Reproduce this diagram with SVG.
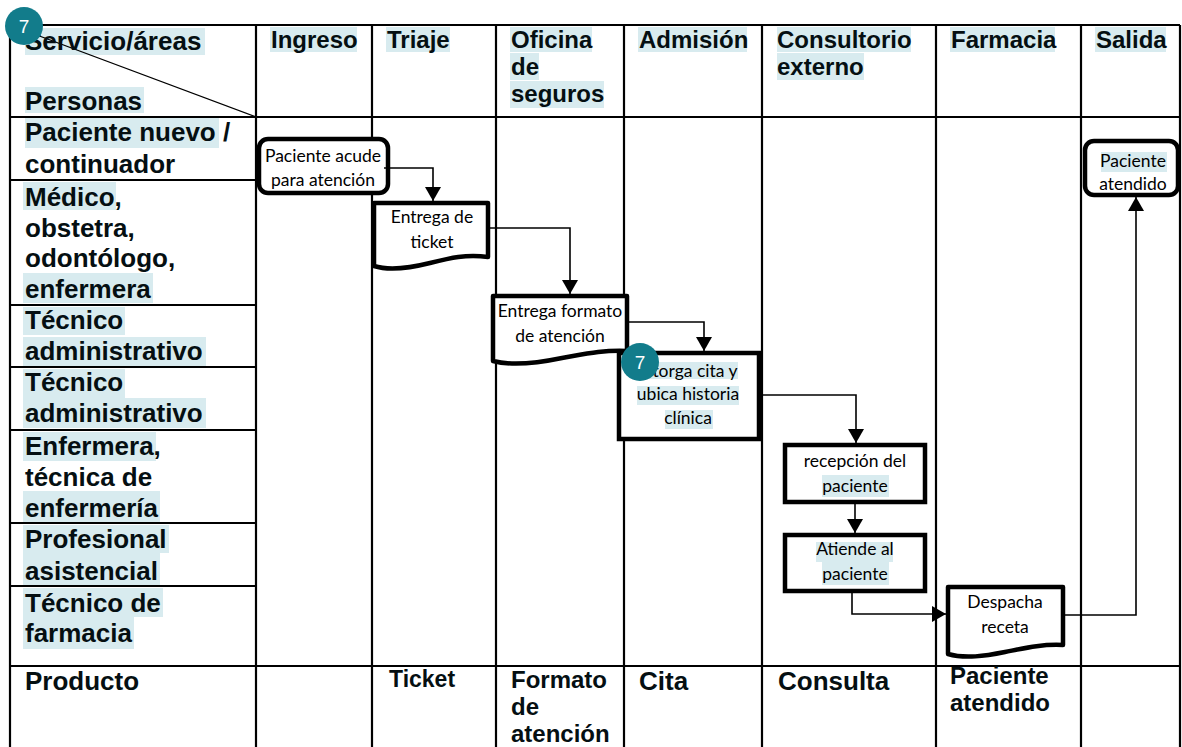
<svg xmlns="http://www.w3.org/2000/svg" width="1182" height="747" viewBox="0 0 1182 747">
<style>
.grid{stroke:#000;stroke-width:2.2;fill:none}
.diag{stroke:#000;stroke-width:1.2;fill:none}
.hl{fill:#d8ebef}
.lc{font-family:"Liberation Sans",Arial,sans-serif;font-weight:bold;font-size:26px;fill:#050f12}
.hd{font-family:"Liberation Sans",Arial,sans-serif;font-weight:bold;font-size:24px;fill:#050f12}
.nb{fill:#fff;stroke:#000;stroke-width:4.5;stroke-linejoin:round}
.nt{font-family:Lato,"Open Sans",sans-serif;font-size:17.5px;fill:#000;text-anchor:middle}
.cn{stroke:#000;stroke-width:1.6;fill:none;marker-end:url(#ah)}
.badge{fill:#127c8b}
.bt{font-family:"Liberation Sans",Arial,sans-serif;font-size:19px;fill:#fff;text-anchor:middle}
</style>
<defs>
<marker id="ah" markerUnits="userSpaceOnUse" viewBox="0 0 14 16" markerWidth="14" markerHeight="16" refX="14" refY="8" orient="auto">
<path d="M0,0 L14,8 L0,16 z" fill="#000"/>
</marker>
</defs>
<rect width="1182" height="747" fill="#fff"/>

<g id="highlights">
<rect class="hl" x="25" y="28" width="180" height="27"/>
<rect class="hl" x="25" y="87" width="119" height="26"/>
<rect class="hl" x="25" y="118" width="194" height="30"/>
<rect class="hl" x="23" y="182" width="93" height="28"/>
<rect class="hl" x="23" y="273" width="130" height="30"/>
<rect class="hl" x="23" y="307" width="102" height="28"/>
<rect class="hl" x="23" y="337" width="183" height="29"/>
<rect class="hl" x="23" y="369" width="102" height="29"/>
<rect class="hl" x="23" y="398" width="183" height="30"/>
<rect class="hl" x="23" y="432" width="133" height="29"/>
<rect class="hl" x="23" y="491" width="137" height="31"/>
<rect class="hl" x="23" y="525" width="146" height="28"/>
<rect class="hl" x="23" y="553" width="137" height="32"/>
<rect class="hl" x="23" y="588" width="140" height="29"/>
<rect class="hl" x="23" y="617" width="111" height="32"/>
<rect class="hl" x="270" y="27" width="87" height="25"/>
<rect class="hl" x="386" y="27" width="64" height="25"/>
<rect class="hl" x="510" y="27" width="82" height="25"/>
<rect class="hl" x="510" y="53" width="29" height="27"/>
<rect class="hl" x="510" y="81" width="94" height="27"/>
<rect class="hl" x="638" y="27" width="109" height="25"/>
<rect class="hl" x="777" y="27" width="134" height="25"/>
<rect class="hl" x="777" y="53" width="87" height="27"/>
<rect class="hl" x="950" y="27" width="105" height="25"/>
<rect class="hl" x="1095" y="27" width="71" height="25"/>
</g>

<g id="table">
<line class="grid" x1="10" y1="25" x2="1180" y2="25"/>
<line class="grid" x1="10" y1="117" x2="1180" y2="117"/>
<line class="grid" x1="10" y1="666" x2="1180" y2="666"/>
<line class="grid" x1="10" y1="180" x2="256" y2="180"/>
<line class="grid" x1="10" y1="305" x2="256" y2="305"/>
<line class="grid" x1="10" y1="367" x2="256" y2="367"/>
<line class="grid" x1="10" y1="430" x2="256" y2="430"/>
<line class="grid" x1="10" y1="523" x2="256" y2="523"/>
<line class="grid" x1="10" y1="586" x2="256" y2="586"/>
<line class="grid" x1="10" y1="25" x2="10" y2="747"/>
<line class="grid" x1="256" y1="25" x2="256" y2="747"/>
<line class="grid" x1="372" y1="25" x2="372" y2="747"/>
<line class="grid" x1="496" y1="25" x2="496" y2="747"/>
<line class="grid" x1="624" y1="25" x2="624" y2="747"/>
<line class="grid" x1="762" y1="25" x2="762" y2="747"/>
<line class="grid" x1="936" y1="25" x2="936" y2="747"/>
<line class="grid" x1="1081" y1="25" x2="1081" y2="747"/>
<line class="grid" x1="1180" y1="25" x2="1180" y2="747"/>
<line class="diag" x1="10" y1="25" x2="256" y2="117"/>
</g>

<g id="row-labels">
<text class="lc" x="25" y="50">Servicio/áreas</text>
<text class="lc" x="25" y="110">Personas</text>
<text class="lc" x="25" y="141">Paciente nuevo /</text>
<text class="lc" x="25" y="173">continuador</text>
<text class="lc" x="25" y="206">Médico,</text>
<text class="lc" x="25" y="237">obstetra,</text>
<text class="lc" x="25" y="267">odontólogo,</text>
<text class="lc" x="25" y="298">enfermera</text>
<text class="lc" x="25" y="329">Técnico</text>
<text class="lc" x="25" y="360">administrativo</text>
<text class="lc" x="25" y="391">Técnico</text>
<text class="lc" x="25" y="422">administrativo</text>
<text class="lc" x="25" y="455">Enfermera,</text>
<text class="lc" x="25" y="486">técnica de</text>
<text class="lc" x="25" y="517">enfermería</text>
<text class="lc" x="25" y="548">Profesional</text>
<text class="lc" x="25" y="580">asistencial</text>
<text class="lc" x="25" y="612">Técnico de</text>
<text class="lc" x="25" y="642">farmacia</text>
<text class="lc" x="25" y="690">Producto</text>
</g>

<g id="column-headers">
<text class="hd" x="271" y="48">Ingreso</text>
<text class="hd" x="387" y="48">Triaje</text>
<text class="hd" x="511" y="48">Oficina</text>
<text class="hd" x="511" y="75">de</text>
<text class="hd" x="511" y="102">seguros</text>
<text class="hd" x="639" y="48">Admisión</text>
<text class="hd" x="777" y="48">Consultorio</text>
<text class="hd" x="777" y="75">externo</text>
<text class="hd" x="951" y="48">Farmacia</text>
<text class="hd" x="1096" y="48">Salida</text>
</g>

<g id="products">
<text class="hd" x="389" y="687" style="font-size:23px">Ticket</text>
<text class="hd" x="511" y="688">Formato</text>
<text class="hd" x="511" y="715">de</text>
<text class="hd" x="511" y="742">atención</text>
<text class="lc" x="639" y="690">Cita</text>
<text class="lc" x="778" y="690">Consulta</text>
<text class="hd" x="950" y="684">Paciente</text>
<text class="hd" x="950" y="711">atendido</text>
</g>

<g id="n1">
<rect class="nb" x="259" y="139" width="129" height="54" rx="9"/>
<text class="nt" x="323" y="162">Paciente acude</text>
<text class="nt" x="323" y="186">para atención</text>
</g>

<g id="n2">
<path class="nb" d="M374,203 H488 V257 C466,254 450,258 430,263 C410,268 390,271 374,266 Z"/>
<text class="nt" x="432" y="223">Entrega de</text>
<text class="nt" x="432" y="248">ticket</text>
</g>

<g id="n3">
<path class="nb" d="M493,296 H627 V351 C602,350 585,354 562,358 C538,363 512,366 493,361 Z"/>
<text class="nt" x="560" y="317">Entrega formato</text>
<text class="nt" x="560" y="342">de atención</text>
</g>

<g id="n4">
<rect class="nb" x="619" y="353" width="140" height="86" style="stroke-linejoin:miter"/>
<rect class="hl" x="648" y="362" width="90" height="17"/>
<rect class="hl" x="637" y="386" width="102" height="19"/>
<rect class="hl" x="665" y="410" width="48" height="19"/>
<text class="nt" x="688" y="377">Otorga cita y</text>
<text class="nt" x="688" y="400">ubica historia</text>
<text class="nt" x="688" y="424">clínica</text>
</g>

<g id="n5">
<rect class="nb" x="785" y="445" width="140" height="57" style="stroke-linejoin:miter"/>
<rect class="hl" x="822" y="475" width="67" height="22"/>
<text class="nt" x="855" y="467">recepción del</text>
<text class="nt" x="855" y="492">paciente</text>
</g>

<g id="n6">
<rect class="nb" x="785" y="535" width="140" height="56" style="stroke-linejoin:miter"/>
<rect class="hl" x="816" y="542" width="77" height="20"/>
<rect class="hl" x="822" y="562" width="67" height="23"/>
<text class="nt" x="855" y="555">Atiende al</text>
<text class="nt" x="855" y="580">paciente</text>
</g>

<g id="n7">
<path class="nb" d="M948,587 H1063 V645 C1041,644 1025,648 1005,652 C985,656 965,659 948,654 Z"/>
<text class="nt" x="1005" y="608">Despacha</text>
<text class="nt" x="1005" y="633">receta</text>
</g>

<g id="n8">
<rect class="nb" x="1085" y="141" width="93" height="54" rx="9"/>
<rect class="hl" x="1101" y="152" width="66" height="20"/>
<text class="nt" x="1133" y="167">Paciente</text>
<text class="nt" x="1133" y="190">atendido</text>
</g>

<g id="connectors">
<path class="cn" d="M384,168 H433 V201"/>
<path class="cn" d="M490,228 H570 V294"/>
<path class="cn" d="M629,322 H704 V351"/>
<path class="cn" d="M761,395 H856 V443"/>
<path class="cn" d="M855,504 V533"/>
<path class="cn" d="M852,593 V614 H946"/>
<path class="cn" d="M1065,615 H1136 V197"/>
</g>

<g id="badges">
<circle class="badge" cx="24" cy="26" r="19"/>
<text class="bt" x="24" y="33">7</text>
<circle class="badge" cx="640" cy="362" r="19"/>
<text class="bt" x="640" y="369">7</text>
</g>
</svg>
